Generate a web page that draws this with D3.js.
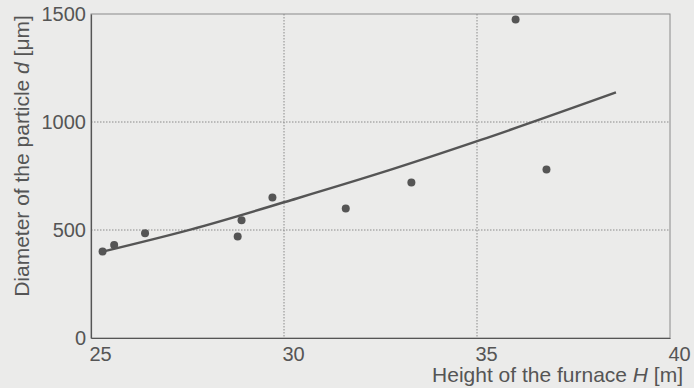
<!DOCTYPE html>
<html>
<head>
<meta charset="utf-8">
<script src="https://cdn.jsdelivr.net/npm/d3@7"></script>
<style>
  body { margin: 0; background: #ebebea; }
  svg { display: block; font-family: "Liberation Sans", Arial, sans-serif; }
</style>
</head>
<body>
<div id="chart"></div>
<script>
// measured points: furnace height H [m] vs particle diameter d [um]
var heights   = [25.3, 25.6, 26.4, 28.8, 28.9, 29.7, 31.6, 33.3, 36.0, 36.8];
var diameters = [400, 430, 485, 470, 545, 650, 600, 720, 1475, 780];

// fitted curve
var fitH = [25.3, 27.6, 30.2, 32.5, 35.1, 38.6];
var fitD = [400, 503, 639, 764, 917, 1137];

var xTicks = [25, 30, 35, 40];
var yTicks = [0, 500, 1000, 1500];

var margins = { top: 14, left: 91, right: 24, bottom: 50 };
var W = 694, H = 388;
var width = W - margins.left - margins.right;
var height = H - margins.top - margins.bottom;
var ink = '#555';

var svg = d3.select('#chart').append('svg')
        .attr('width', W)
        .attr('height', H)
        .style('background', '#ebebea');

var g = svg.append('g')
        .attr('transform', 'translate(' + margins.left + ',' + margins.top + ')');

var x = d3.scaleLinear().domain([25, 40]).range([0, width]);
var y = d3.scaleLinear().domain([0, 1500]).range([height, 0]);

// dotted grid
g.selectAll('line.vgrid')
        .data(xTicks.slice(1, -1))
        .enter().append('line')
        .attr('x1', function(d){ return x(d); })
        .attr('x2', function(d){ return x(d); })
        .attr('y1', 0).attr('y2', height)
        .attr('stroke', '#8a8a8a')
        .attr('stroke-dasharray', '1.5,1.5');
g.selectAll('line.hgrid')
        .data(yTicks.slice(1, -1))
        .enter().append('line')
        .attr('y1', function(d){ return y(d); })
        .attr('y2', function(d){ return y(d); })
        .attr('x1', 0).attr('x2', width)
        .attr('stroke', '#8a8a8a')
        .attr('stroke-dasharray', '1.5,1.5');

// frame
g.append('rect')
        .attr('width', width).attr('height', height)
        .attr('fill', 'none')
        .attr('stroke', '#8a8a8a');

var xAxis = g.append('g')
        .attr('transform', 'translate(0,' + height + ')')
        .call(d3.axisBottom(x).tickValues(xTicks).tickFormat(d3.format('d'))
                .tickSize(0).tickPadding(9));
var yAxis = g.append('g')
        .call(d3.axisLeft(y).tickValues(yTicks).tickFormat(d3.format('d'))
                .tickSize(0).tickPadding(5));

[xAxis, yAxis].forEach(function(a){
        a.select('.domain').attr('stroke', ink).attr('stroke-width', 1.2);
        a.selectAll('text')
                .attr('fill', ink)
                .style('font-size', '20px')
                .style('font-family', '"Liberation Sans", Arial, sans-serif');
});
xAxis.selectAll('text').attr('dx', 9);

// fitted curve
var line = d3.line()
        .x(function(d){ return x(d[0]); })
        .y(function(d){ return y(d[1]); })
        .curve(d3.curveMonotoneX);
g.append('path')
        .datum(d3.zip(fitH, fitD))
        .attr('d', line)
        .attr('fill', 'none')
        .attr('stroke', ink)
        .attr('stroke-width', 2.4);

// points
g.selectAll('circle')
        .data(d3.zip(heights, diameters))
        .enter().append('circle')
        .attr('cx', function(d){ return x(d[0]); })
        .attr('cy', function(d){ return y(d[1]); })
        .attr('r', 4)
        .attr('fill', ink);

// axis titles
var xt = svg.append('text')
        .attr('x', 683).attr('y', 382)
        .attr('text-anchor', 'end')
        .attr('fill', ink)
        .style('font-size', '21px');
xt.append('tspan').text('Height of the furnace ');
xt.append('tspan').style('font-style', 'italic').text('H');
xt.append('tspan').text(' [m]');

var yt = svg.append('text')
        .attr('transform', 'translate(29,156) rotate(-90)')
        .attr('text-anchor', 'middle')
        .attr('fill', ink)
        .style('font-size', '21px');
yt.append('tspan').text('Diameter of the particle ');
yt.append('tspan').style('font-style', 'italic').text('d');
yt.append('tspan').text(' [\u03bcm]');
</script>
</body>
</html>
